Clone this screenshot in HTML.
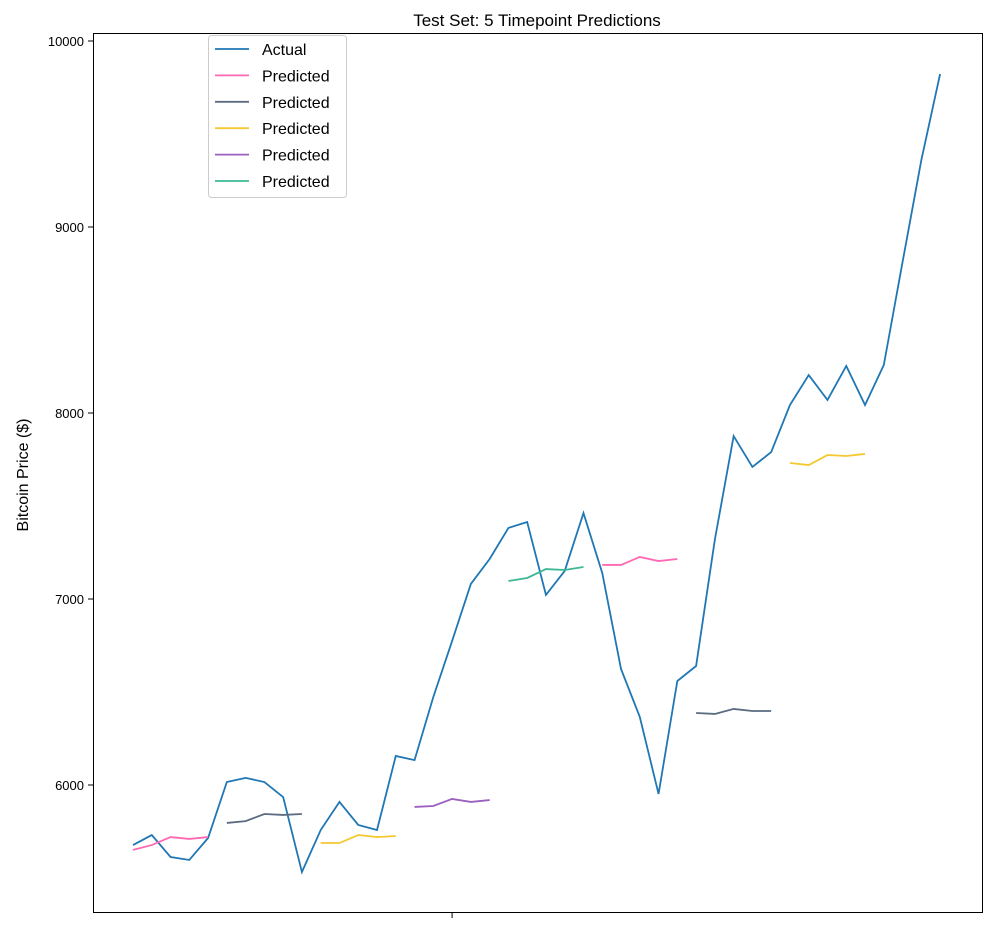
<!DOCTYPE html>
<html><head><meta charset="utf-8"><style>
body{margin:0;background:#fff;font-family:"Liberation Sans",sans-serif;}
</style></head><body>
<svg id="chart" width="1000" height="930" xmlns="http://www.w3.org/2000/svg">
<text x="537" y="26" text-anchor="middle" font-size="17" font-family="Liberation Sans, sans-serif">Test Set: 5 Timepoint Predictions</text>
<text transform="translate(28,475) rotate(-90)" text-anchor="middle" font-size="16" font-family="Liberation Sans, sans-serif">Bitcoin Price ($)</text>
<g id="marks"></g>
<rect x="93.5" y="33.5" width="889" height="879" fill="none" stroke="#000" stroke-width="1"/>
<g id="ticks"></g>
<g id="legend"></g>
</svg>
<script>
const actual = [5677,5731,5613,5597,5715,6016,6038,6016,5935,5532,5758,5909,5785,5758,6156,6134,6473,6774,7081,7215,7382,7414,7022,7151,7462,7140,6624,6366,5952,6559,6640,7320,7876,7710,7790,8043,8204,8070,8253,8043,8258,8812,9360,9823];
const predStarts = [0,5,10,15,20,25,30,35];
const predValues = [
 [5651,5677,5720,5710,5720],
 [5796,5806,5844,5839,5844],
 [5688,5688,5731,5720,5726],
 [5882,5887,5925,5909,5919],
 [7097,7113,7161,7156,7172],
 [7183,7183,7226,7204,7215],
 [6387,6382,6409,6398,6398],
 [7731,7720,7774,7769,7780]
];
const yTicks = [6000,7000,8000,9000,10000];
const xTickIndex = [17];
const legendLabels = ["Actual","Predicted","Predicted","Predicted","Predicted","Predicted"];
const predColors = ["#ff69b4","#5b6b80","#f5c832","#9b5fc0","#3cb894"];
const NS="http://www.w3.org/2000/svg";
const X = i => 133 + i*18.77;
const Y = v => 41 + (10000 - v)*0.186;
const marks=document.getElementById('marks');
function poly(pts,color,name){
  const p=document.createElementNS(NS,'polyline');
  p.setAttribute('points',pts.join(' '));
  p.setAttribute('fill','none');p.setAttribute('stroke',color);p.setAttribute('stroke-width','1.8');
  
  
  marks.appendChild(p);
}
poly(actual.map((v,i)=>X(i)+','+Y(v)),'#1f77b4','actual-line');
predValues.forEach((arr,k)=>{
  poly(arr.map((v,j)=>X(predStarts[k]+j)+','+Y(v)),predColors[k%5],'predicted-line-'+(k+1));
});
const ticks=document.getElementById('ticks');
yTicks.forEach(t=>{
  const y=Y(t);
  const l=document.createElementNS(NS,'line');
  l.setAttribute('x1',88);l.setAttribute('x2',93.5);l.setAttribute('y1',y);l.setAttribute('y2',y);l.setAttribute('stroke','#000');
  
  
  ticks.appendChild(l);
  const tx=document.createElementNS(NS,'text');
  tx.setAttribute('x',84);tx.setAttribute('y',y+5);tx.setAttribute('text-anchor','end');tx.setAttribute('font-size','13');
  tx.textContent=t;
  
  
  ticks.appendChild(tx);
});
xTickIndex.forEach(i=>{
  const l=document.createElementNS(NS,'line');
  l.setAttribute('x1',X(i));l.setAttribute('x2',X(i));l.setAttribute('y1',912.5);l.setAttribute('y2',918);l.setAttribute('stroke','#000');
  
  
  ticks.appendChild(l);
});
const lg=document.getElementById('legend');
const box=document.createElementNS(NS,'rect');
box.setAttribute('x',208.5);box.setAttribute('y',35.5);box.setAttribute('width',138);box.setAttribute('height',162);box.setAttribute('rx',3);
box.setAttribute('fill','#fff');box.setAttribute('stroke','#ccc');


lg.appendChild(box);
const lcolors=['#1f77b4'].concat(predColors);
legendLabels.forEach((lab,i)=>{
  const y=49+i*26.4;
  const l=document.createElementNS(NS,'line');
  l.setAttribute('x1',215);l.setAttribute('x2',249);l.setAttribute('y1',y);l.setAttribute('y2',y);l.setAttribute('stroke',lcolors[i]);l.setAttribute('stroke-width','1.8');
  
  
  lg.appendChild(l);
  const t=document.createElementNS(NS,'text');
  t.setAttribute('x',262);t.setAttribute('y',y+6);t.setAttribute('font-size','16');
  t.textContent=lab;
  
  
  lg.appendChild(t);
});
</script>
</body></html>
